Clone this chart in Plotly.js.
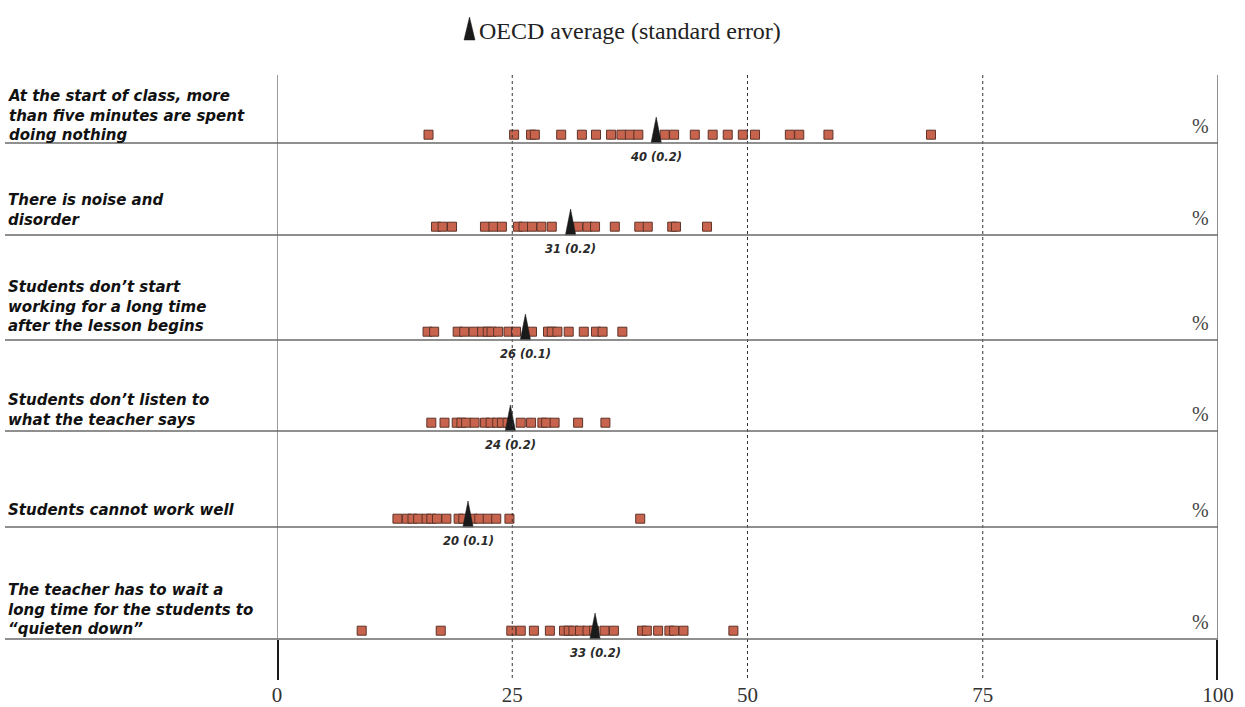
<!DOCTYPE html>
<html>
<head>
<meta charset="utf-8">
<script src="https://cdn.plot.ly/plotly-3.0.1.min.js"></script>
<style>html,body{margin:0;padding:0;background:#fff;}#chart{width:1245px;height:707px;}</style>
</head>
<body>
<div id="chart"></div>
<script>
// ---------------- DATA ----------------
const categories = [
  "At the start of class, more<br>than five minutes are spent<br>doing nothing",
  "There is noise and<br>disorder",
  "Students don’t start<br>working for a long time<br>after the lesson begins",
  "Students don’t listen to<br>what the teacher says",
  "Students cannot work well",
  "The teacher has to wait a<br>long time for the students to<br>“quieten down”"
];
const countryValues1 = [16.1, 25.2, 27.0, 27.4, 30.2, 32.4, 33.9, 35.5, 36.6, 37.5, 38.4, 41.2, 42.2, 44.4, 46.3, 47.9, 49.5, 50.8, 54.5, 55.5, 58.6, 69.5];
const countryValues2 = [16.9, 17.6, 18.6, 22.1, 23.0, 23.9, 25.6, 26.2, 27.1, 28.1, 29.2, 32.0, 33.0, 33.8, 35.9, 38.5, 39.4, 42.0, 42.4, 45.7];
const countryValues3 = [16.0, 16.7, 19.2, 19.9, 20.9, 21.8, 22.4, 22.8, 23.5, 24.6, 25.4, 27.1, 28.8, 29.2, 29.8, 31.0, 32.6, 33.9, 34.6, 36.7];
const countryValues4 = [16.4, 17.8, 19.1, 19.6, 20.1, 21.0, 22.1, 22.7, 23.4, 23.9, 24.5, 25.9, 27.0, 28.2, 28.6, 29.5, 32.0, 34.9];
const countryValues5 = [12.8, 13.8, 14.4, 15.0, 15.9, 16.4, 17.0, 18.0, 19.3, 19.8, 20.8, 21.5, 22.4, 23.3, 24.7, 38.6];
const countryValues6 = [9.0, 17.4, 24.9, 25.9, 27.3, 29.0, 30.5, 31.0, 31.5, 32.2, 33.0, 33.7, 34.8, 35.8, 38.8, 39.3, 40.5, 41.7, 42.2, 43.2, 48.5];
const oecdMean = [40.3, 31.2, 26.4, 24.8, 20.3, 33.8];
const oecdMeanLabel = ["40", "31", "26", "24", "20", "33"];
const oecdSE = ["0.2", "0.2", "0.1", "0.2", "0.1", "0.2"];
const tickValues = [0, 25, 50, 75, 100];
const tickLabels = ["0", "25", "50", "75", "100"];
const legendText = "OECD average (standard error)";

const seriesValues = [countryValues1, countryValues2, countryValues3, countryValues4, countryValues5, countryValues6];

// ---------------- LAYOUT GEOMETRY (pixel-based y axis) ----------------
const rowBase = [143, 235, 340, 431, 527, 639]; // separator line of each row
const labelShift = [7, 0, 1, 4, -2, 5];         // fine vertical placement of row labels
const TOP = 75, BOTTOM = 680;
const sqFill = "#c8644e", sqEdge = "#5e3328";
const sansBI = "'DejaVu Sans', 'Open Sans', sans-serif";
const serif = "'Liberation Serif', 'DejaVu Serif', serif";

const traces = [];
const shapes = [];
const annotations = [];

// vertical frame lines
shapes.push({type:'line', xref:'x', yref:'y', x0:0, x1:0, y0:TOP, y1:rowBase[5], line:{color:'#666', width:1.3}});
shapes.push({type:'line', xref:'x', yref:'y', x0:100, x1:100, y0:TOP, y1:rowBase[5], line:{color:'#555', width:1.3}});
// dashed guides
[25, 50, 75].forEach(v => shapes.push({type:'line', xref:'x', yref:'y', x0:v, x1:v, y0:TOP, y1:BOTTOM, line:{color:'#333', width:1, dash:'3px,3px'}}));
// thick end ticks
[0, 100].forEach(v => shapes.push({type:'line', xref:'x', yref:'y', x0:v, x1:v, y0:rowBase[5]+1, y1:BOTTOM, line:{color:'#1a1a1a', width:4}}));
// row separators
rowBase.forEach(b => shapes.push({type:'line', xref:'paper', yref:'y', x0:-272/941, x1:1, y0:b, y1:b, line:{color:'#6a6a6a', width:1.5}}));

categories.forEach((cat, i) => {
  const base = rowBase[i];
  const vals = seriesValues[i];
  traces.push({
    type:'scatter', mode:'markers', x: vals, y: vals.map(() => base - 8.3),
    marker:{symbol:'square', size:9, color:sqFill, line:{color:sqEdge, width:1}},
    hoverinfo:'x', showlegend:false
  });
  const m = oecdMean[i];
  traces.push({
    type:'scatter', mode:'lines', x:[m - 0.55, m, m + 0.55, m - 0.55], y:[base, base - 26, base, base],
    fill:'toself', fillcolor:'#1a1a1a', line:{color:'#1a1a1a', width:0.5}, hoverinfo:'skip', showlegend:false
  });
  annotations.push({
    xref:'x', yref:'y', x:m, y:base + 14, text: oecdMeanLabel[i] + " (" + oecdSE[i] + ")",
    showarrow:false, xanchor:'center', yanchor:'middle',
    font:{family:sansBI, size:11.5, color:'#2a2a2a', weight:700, style:'italic'}
  });
  annotations.push({
    xref:'paper', yref:'y', x:-271/941, y:base - 4 + labelShift[i], text:cat, showarrow:false,
    xanchor:'left', yanchor:'bottom', align:'left',
    font:{family:sansBI, size:15, color:'#111', weight:700, style:'italic'}
  });
  annotations.push({
    xref:'paper', yref:'y', x:1 - 18/941, y:base - 17, text:'%', showarrow:false,
    xanchor:'center', yanchor:'middle', font:{family:serif, size:20, color:'#444'}
  });
});

// legend at top
annotations.push({
  xref:'paper', yref:'paper', x:(477-277)/941, y:1 + (75-31)/605, text:legendText, showarrow:false,
  xanchor:'left', yanchor:'middle', font:{family:serif, size:24, color:'#222'}
});
shapes.push({type:'path', xref:'paper', yref:'paper',
  path: (() => {
    const px = x => (x-277)/941, py = y => 1 + (75-y)/605;
    return `M ${px(464)} ${py(40)} L ${px(469.5)} ${py(17)} L ${px(475)} ${py(40)} Z`;
  })(),
  fillcolor:'#1a1a1a', line:{color:'#1a1a1a', width:0.5}});

const layout = {
  width:1245, height:707,
  margin:{l:277, r:27, t:TOP, b:707-BOTTOM, pad:0},
  paper_bgcolor:'#fff', plot_bgcolor:'#fff',
  xaxis:{range:[0,100], tickvals:tickValues, ticktext:tickLabels, showgrid:false, zeroline:false, showline:false,
         ticks:'', tickfont:{family:serif, size:21, color:'#333'}, fixedrange:true},
  yaxis:{range:[BOTTOM, TOP], showgrid:false, zeroline:false, showline:false, showticklabels:false, ticks:'', fixedrange:true},
  shapes:shapes, annotations:annotations, showlegend:false
};

Plotly.newPlot('chart', traces, layout, {displayModeBar:false, staticPlot:true});
</script>
</body>
</html>
